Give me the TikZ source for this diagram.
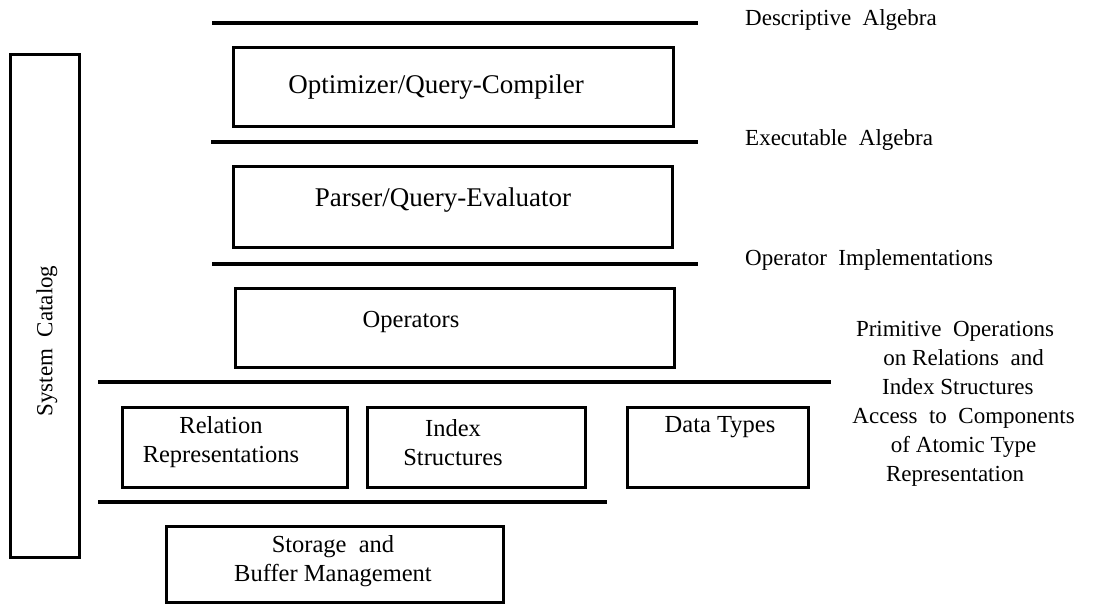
\documentclass[tikz,border=0pt]{standalone}
\usepackage{fontspec}
\setmainfont{Liberation Serif}
\begin{document}
\begin{tikzpicture}[x=1pt,y=-1pt,
  box/.style={draw,line width=3pt,inner sep=0pt},
  hline/.style={line width=3.2pt},
  lbl/.style={inner sep=0pt,font=\fontsize{24.5}{29}\selectfont,align=center},
  biglbl/.style={inner sep=0pt,font=\fontsize{27}{29}\selectfont,align=center},
  sidetext/.style={inner sep=0pt,font=\fontsize{23}{29}\selectfont,align=center},
  side/.style={inner sep=0pt,font=\fontsize{23}{29}\selectfont,anchor=west}]
\useasboundingbox (0,0) rectangle (1115,605);
% layer lines
\draw[hline] (212,23) -- (698,23);
\draw[hline] (211,142) -- (698,142);
\draw[hline] (212,264) -- (698,264);
\draw[hline] (98,382) -- (831,382);
\draw[hline] (98,502) -- (607,502);
% system catalog
\node[box,minimum width=69,minimum height=503] (cat) at (44.5,305.5) {};
\node[sidetext,rotate=90] (catt) at (47,341) {System\ \ Catalog};
% boxes
\node[box,minimum width=440,minimum height=79] (opt) at (453,86.5) {};
\node[biglbl] (optt) at (436,87) {Optimizer/Query-Compiler};
\node[box,minimum width=439,minimum height=81] (par) at (452.5,206.5) {};
\node[biglbl] (part) at (443,200) {Parser/Query-Evaluator};
\node[box,minimum width=439,minimum height=79] (ops) at (454.5,327.5) {};
\node[lbl] (opst) at (411,322) {Operators};
\node[box,minimum width=225,minimum height=80] (rel) at (234.5,447) {};
\node[lbl] (relt) at (221,442.5) {Relation\\Representations};
\node[box,minimum width=218,minimum height=80] (idx) at (476,447) {};
\node[lbl] (idxt) at (453,442.5) {Index\\Structures};
\node[box,minimum width=181,minimum height=80] (dt) at (717.5,447) {};
\node[lbl] (dtt) at (720,427) {Data Types};
\node[box,minimum width=337,minimum height=76] (sto) at (334.5,564) {};
\node[lbl] (stot) at (333,561) {Storage\ \ and\\Buffer Management};
% side labels
\node[side] (l1) at (745,20) {Descriptive\ \ Algebra};
\node[side] (l2) at (745,140) {Executable\ \ Algebra};
\node[side] (l3) at (745,260) {Operator\ \ Implementations};
\node[sidetext] (l4) at (955,404) {Primitive\ \ Operations\\
\ \ \ on Relations\ \ and\\
\ Index Structures\\
\ \ \ Access\ \ to\ \ Components\\
\ \ \ of Atomic Type\\
Representation};
\end{tikzpicture}
\end{document}
